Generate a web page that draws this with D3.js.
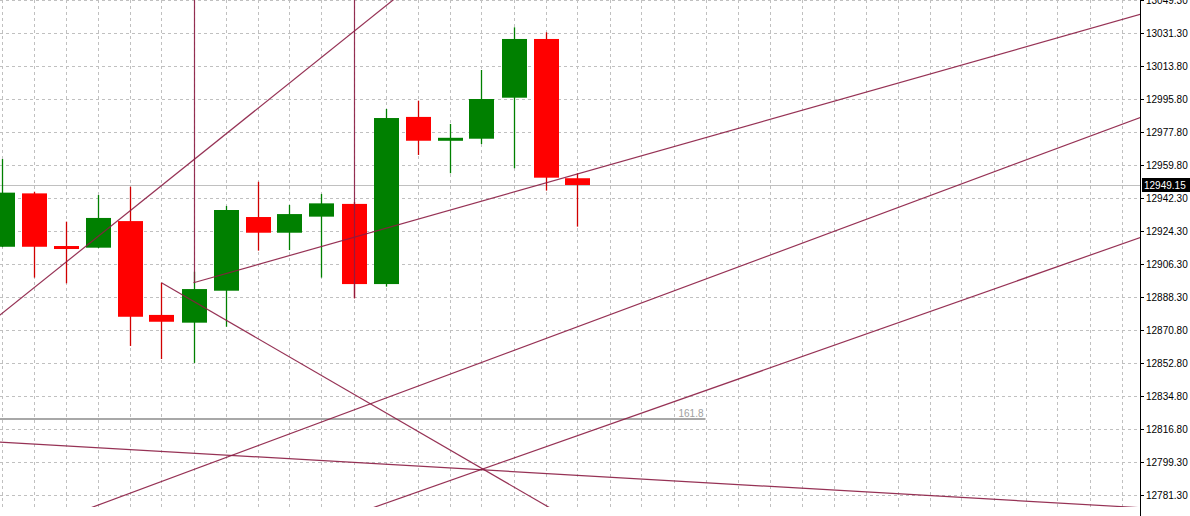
<!DOCTYPE html>
<html>
<head>
<meta charset="utf-8">
<script src="https://cdn.jsdelivr.net/npm/d3@7"></script>
<style>
html,body{margin:0;padding:0;background:#fff;}
svg{display:block;}
text{font-family:"Liberation Sans",Arial,sans-serif;}
</style>
</head>
<body>
<svg id="chart" width="1190" height="516"></svg>
<script>
// ---- data ----
const bars = [0,1,2,3,4,5,6,7,8,9,10,11,12,13,14,15,16,17,18];
const opens  = [12915.7,12944.6,12916.1,12915.2,12929.6,12878.8,12874.6,12891.9,12931.8,12923.3,12932.0,12938.9,12895.5,12986.0,12973.1,12974.2,12996.4,13028.2,12952.8];
const highs  = [12963.2,12945.5,12929.3,12943.7,12948.2,12896.2,12902.2,12937.8,12950.9,12938.3,12944.3,12940.0,12990.3,12994.8,12982.2,13011.4,13034.5,13031.8,12955.5];
const lows   = [12915.5,12899.0,12895.9,12915.0,12862.0,12854.9,12852.8,12872.4,12913.6,12913.9,12899.0,12887.8,12894.1,12965.4,12955.5,12971.3,12958.2,12946.1,12926.6];
const closes = [12945.0,12915.7,12914.5,12931.3,12877.8,12875.1,12892.8,12935.6,12923.3,12933.4,12939.2,12895.5,12985.4,12973.1,12974.7,12995.7,13028.2,12953.1,12949.15];
const tickLabels = ["13049.30","13031.30","13013.80","12995.80","12977.80","12959.80","12942.30","12924.30","12906.30","12888.30","12870.80","12852.80","12834.80","12816.80","12799.30","12781.30"];
const currentPrice = 12949.15;
// trend lines: [startIndex, startPrice, endIndex, endPrice]
const trendStartIdx = [-1, 6, 11, 6, 2.5, 11.36, 5, -1];
const trendStartPx  = [12865.5, 12896.2, 12887.8, 12896.2, 12772.5, 12772.9, 12896.2, 12810.9];
const trendEndIdx   = [13, 6, 11, 35.6, 35.6, 35.6, 17.45, 35.6];
const trendEndPx    = [13059.9, 13060, 13060, 13041.6, 12985.8, 12920.8, 12771.2, 12774.4];
const fibLevelNames = ["161.8"];
const fibLevelPx    = [12822.6];
const fibStartIdx   = [-1];
const fibEndIdx     = [22];

// ---- layout ----
const W = 1190, H = 516;
const plotRight = 1140, plotBottom = 507;
const x = d3.scaleLinear().domain([0, 35]).range([1.5, 1121.5]);
const y = d3.scaleLinear().domain([12781.3, 13049.3]).range([495, 0]);
const bodyW = 25;
const bull = "#008000", bear = "#ff0000", lineCol = "#8b1c42", gridCol = "#c0c0c0";

const svg = d3.select("#chart");
svg.append("defs").append("clipPath").attr("id","plot")
  .append("rect").attr("x",0).attr("y",0).attr("width",plotRight).attr("height",plotBottom);

const g = svg.append("g").attr("clip-path","url(#plot)");

// grid
const vgrid = d3.range(0, 36);
g.append("g").selectAll("line").data(vgrid).join("line")
  .attr("x1", d => Math.round(x(d)) + 0.5).attr("x2", d => Math.round(x(d)) + 0.5)
  .attr("y1", 0).attr("y2", plotBottom)
  .attr("stroke", gridCol).attr("stroke-dasharray","3,3");
const tickVals = tickLabels.map(Number);
g.append("g").selectAll("line").data(tickVals).join("line")
  .attr("x1", 0).attr("x2", plotRight)
  .attr("y1", d => Math.round(y(d)) + 0.5).attr("y2", d => Math.round(y(d)) + 0.5)
  .attr("stroke", gridCol).attr("stroke-dasharray","3,3");

// current price line
g.append("line").attr("x1",0).attr("x2",plotRight)
  .attr("y1", Math.round(y(currentPrice))+0.5).attr("y2", Math.round(y(currentPrice))+0.5)
  .attr("stroke","#c0c0c0").attr("stroke-width",1);

// fib level
fibLevelPx.forEach((p,k) => {
  const yy = Math.round(y(p));
  g.append("line").attr("x1", x(fibStartIdx[k])).attr("x2", x(fibEndIdx[k]))
    .attr("y1", yy).attr("y2", yy).attr("stroke","#a8a8a8").attr("stroke-width",2);
  g.append("text").attr("x", x(fibEndIdx[k]) - 2).attr("y", yy - 2)
    .attr("text-anchor","end").attr("font-size","10px").attr("fill","#a0a0a0")
    .text(fibLevelNames[k]);
});

// candles
const candles = bars.map((b,i) => ({i:b, o:opens[i], h:highs[i], l:lows[i], c:closes[i]}));
const cg = g.append("g");
cg.selectAll("line.wick").data(candles).join("line").attr("class","wick")
  .attr("x1", d => Math.round(x(d.i)) + 0.5).attr("x2", d => Math.round(x(d.i)) + 0.5)
  .attr("y1", d => y(d.h)).attr("y2", d => y(d.l))
  .attr("stroke", d => d.c >= d.o ? bull : "#d00000").attr("stroke-width",1.3);
cg.selectAll("rect.body").data(candles).join("rect").attr("class","body")
  .attr("x", d => Math.round(x(d.i)) - 12)
  .attr("width", bodyW)
  .attr("y", d => y(Math.max(d.o, d.c)))
  .attr("height", d => Math.max(3, Math.abs(y(d.o) - y(d.c))))
  .attr("fill", d => d.c >= d.o ? bull : bear);

// trend lines
const tl = trendStartIdx.map((s,k) => ({x1:s, p1:trendStartPx[k], x2:trendEndIdx[k], p2:trendEndPx[k]}));
g.append("g").selectAll("line").data(tl).join("line")
  .attr("x1", d => d.x1 === d.x2 ? Math.round(x(d.x1)) + 0.5 : x(d.x1))
  .attr("x2", d => d.x1 === d.x2 ? Math.round(x(d.x2)) + 0.5 : x(d.x2))
  .attr("y1", d => y(d.p1)).attr("y2", d => y(d.p2))
  .attr("stroke", lineCol).attr("stroke-width",1.2).attr("stroke-opacity",0.9);

// right axis
svg.append("line").attr("x1", plotRight+0.5).attr("x2", plotRight+0.5)
  .attr("y1",0).attr("y2",H).attr("stroke","#000").attr("stroke-width",1);
const ax = svg.append("g");
ax.selectAll("line").data(tickVals).join("line")
  .attr("x1", plotRight).attr("x2", plotRight+4)
  .attr("y1", d => Math.round(y(d))+0.5).attr("y2", d => Math.round(y(d))+0.5)
  .attr("stroke","#000");
ax.selectAll("text").data(tickLabels).join("text")
  .attr("x", plotRight+6).attr("y", d => Math.round(y(+d)))
  .attr("dy","0.35em").attr("font-size","10px").attr("fill","#000")
  .text(d => d);

// current price tag
const cy = Math.round(y(currentPrice));
svg.append("rect").attr("x", plotRight+2).attr("y", cy-7).attr("width", W-plotRight-2).attr("height",14).attr("fill","#000");
svg.append("text").attr("x", plotRight+4).attr("y", cy).attr("dy","0.35em")
  .attr("font-size","10px").attr("fill","#fff").text(currentPrice.toFixed(2));
</script>
</body>
</html>
